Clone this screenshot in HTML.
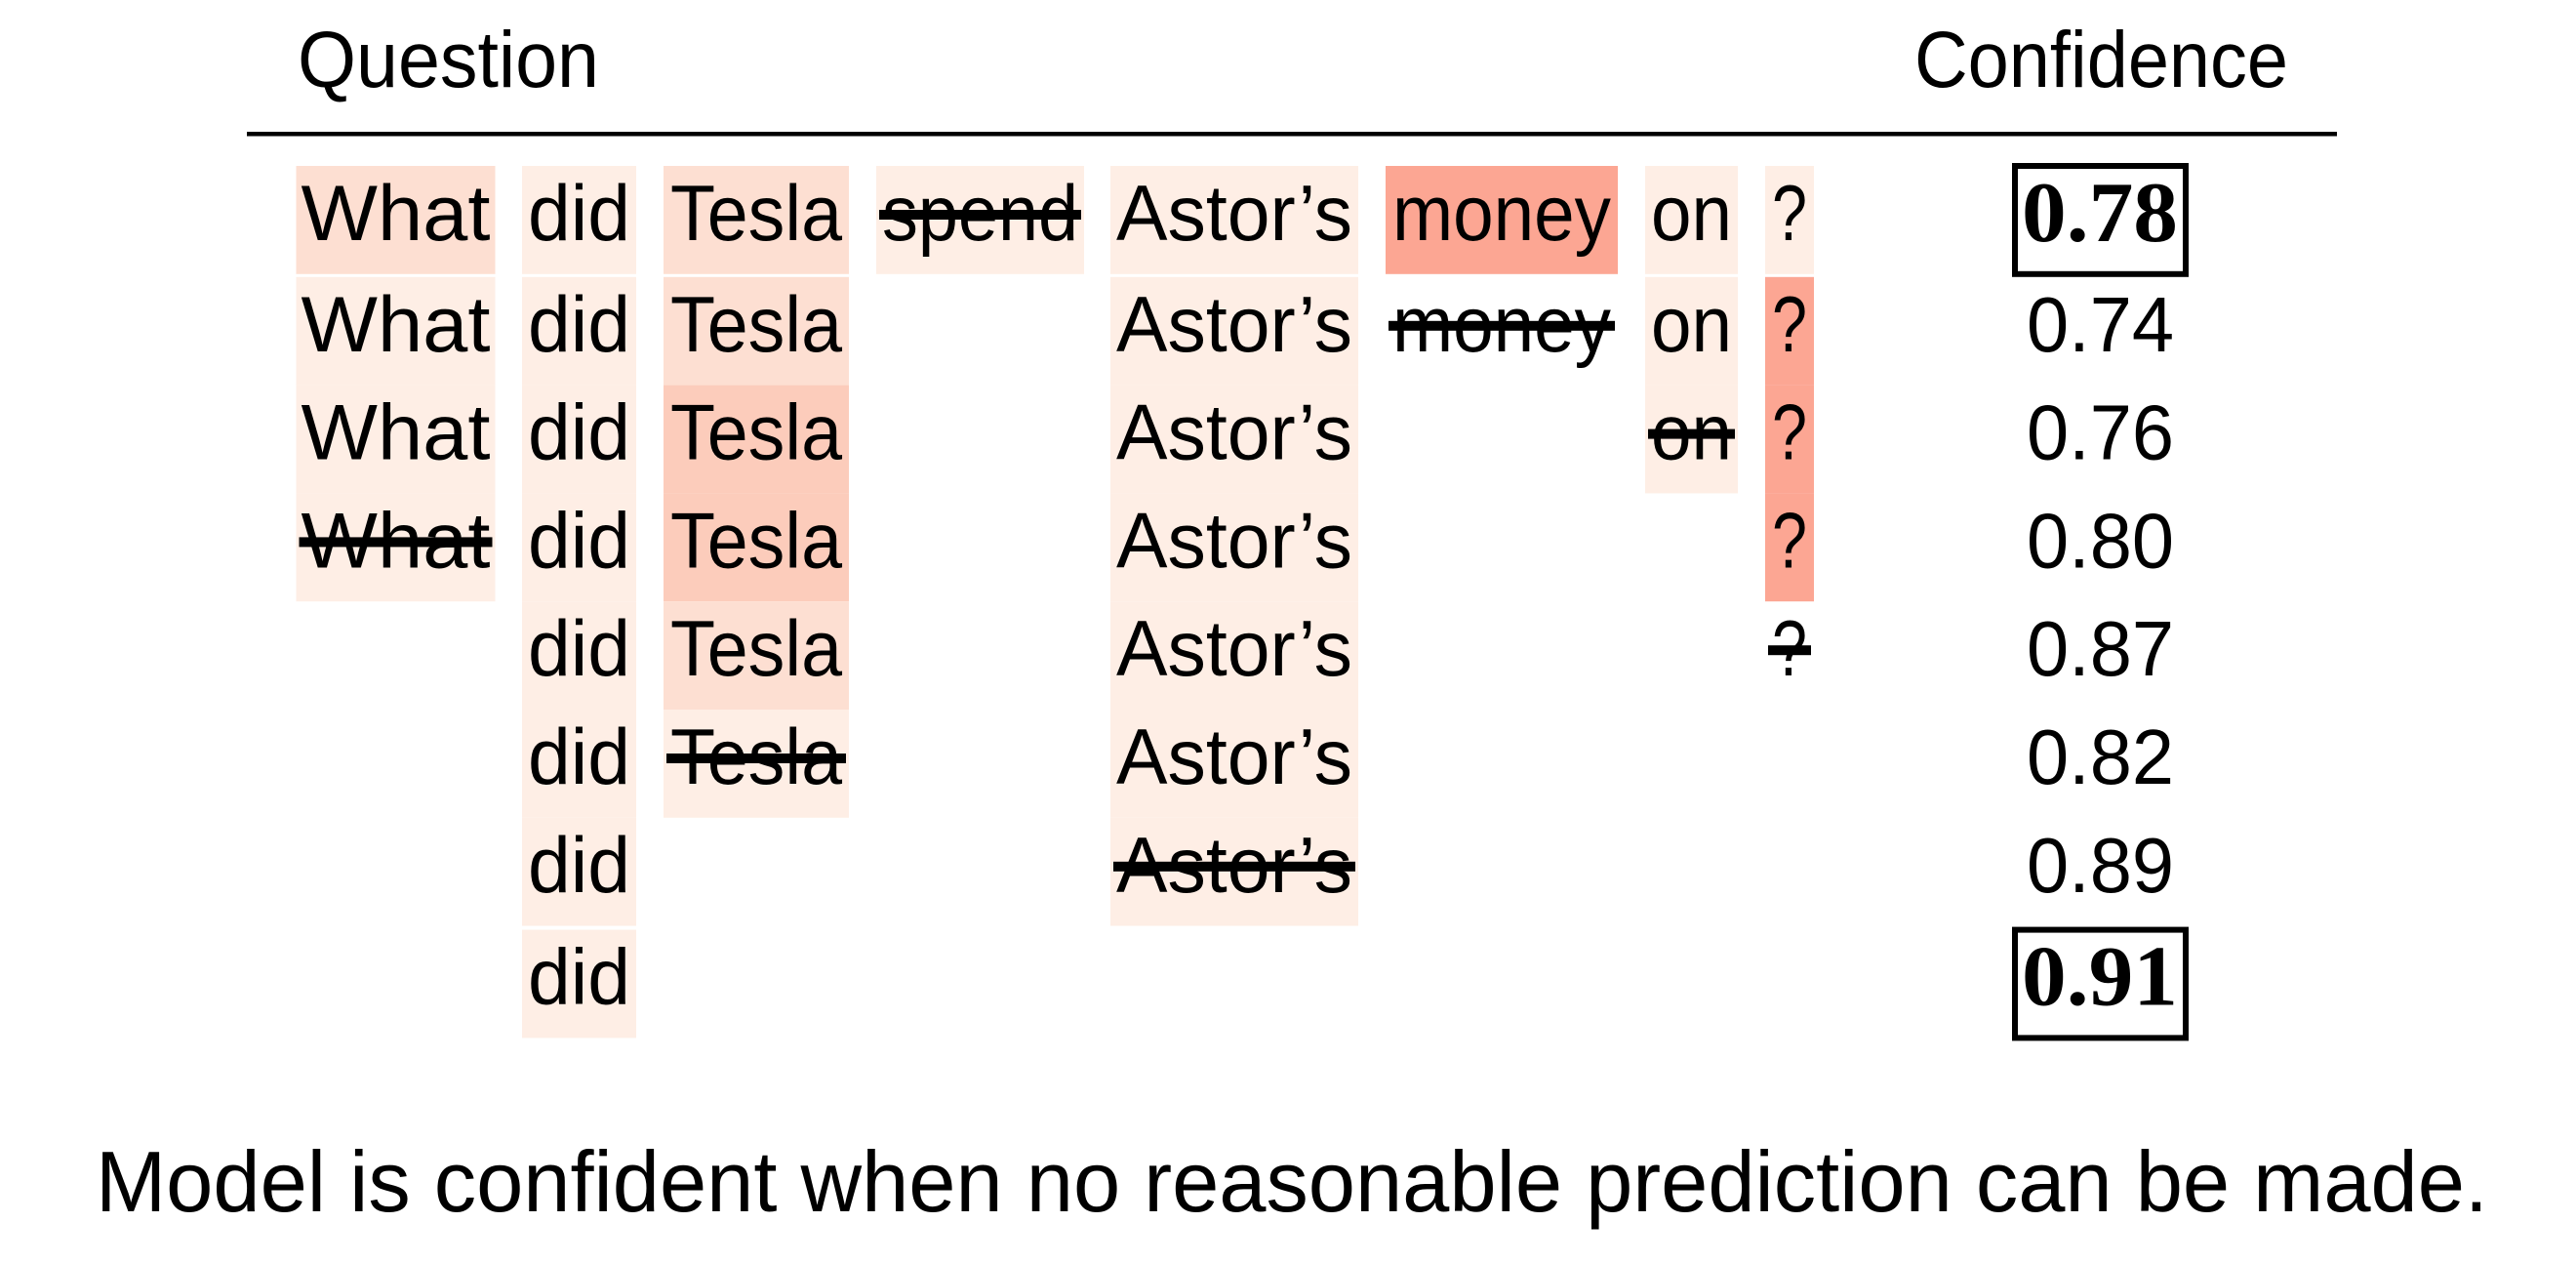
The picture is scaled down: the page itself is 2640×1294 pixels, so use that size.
<!DOCTYPE html>
<html lang="en">
<head>
<meta charset="utf-8">
<title>Input reduction confidence table</title>
<style>
html,body{margin:0;padding:0;background:#fff;width:2640px;height:1294px;overflow:hidden}
svg{display:block}
text{font-family:"Liberation Sans",sans-serif;fill:#000}
</style>
</head>
<body>
<svg id="chart" xmlns="http://www.w3.org/2000/svg" width="2640" height="1294" viewBox="0 0 2640 1294">
  <rect x="0" y="0" width="2640" height="1294" fill="#ffffff"/>
  <text x="305" y="89" font-size="82" textLength="309" lengthAdjust="spacingAndGlyphs">Question</text>
  <text x="1962" y="89" font-size="82" textLength="383" lengthAdjust="spacingAndGlyphs">Confidence</text>
  <rect x="253" y="135" width="2142" height="4.5" fill="#000000"/>
  <g id="cells"></g>
  <g id="words"></g>
  <g id="strikes"></g>
  <g id="scores"></g>
  <text x="98" y="1241" font-size="88" textLength="2452" lengthAdjust="spacingAndGlyphs">Model is confident when no reasonable prediction can be made.</text>
</svg>
<script>
// Data
var tokens = ["What", "did", "Tesla", "spend", "Astor\u2019s", "money", "on", "?"];
var removedTokenByStep = [3, 5, 6, 0, 7, 2, 4, null];
var confidences = ["0.78", "0.74", "0.76", "0.80", "0.87", "0.82", "0.89", "0.91"];
var boxedSteps = [0, 7];
var salienceStep0 = [0.13, 0.04, 0.13, 0.04, 0.04, 0.32, 0.04, 0.04];
var salienceStep1 = [0.04, 0.04, 0.13, null, 0.04, null, 0.04, 0.32];
var salienceStep2 = [0.04, 0.04, 0.20, null, 0.04, null, 0.04, 0.32];
var salienceStep3 = [0.04, 0.04, 0.20, null, 0.04, null, null, 0.32];
var salienceStep4 = [null, 0.04, 0.13, null, 0.04, null, null, null];
var salienceStep5 = [null, 0.04, 0.04, null, 0.04, null, null, null];
var salienceStep6 = [null, 0.04, null, null, 0.04, null, null, null];
var salienceStep7 = [null, 0.04, null, null, null, null, null, null];
var salience = [salienceStep0, salienceStep1, salienceStep2, salienceStep3, salienceStep4, salienceStep5, salienceStep6, salienceStep7];

// Layout of the categorical token axis (not data)
function bandLeft(i) {
  switch (i) {
    case 0: return 303.5;
    case 1: return 535;
    case 2: return 680;
    case 3: return 898;
    case 4: return 1138;
    case 5: return 1420;
    case 6: return 1686;
    default: return 1809;
  }
}
function bandRight(i) {
  switch (i) {
    case 0: return 507.5;
    case 1: return 652;
    case 2: return 870;
    case 3: return 1111;
    case 4: return 1392;
    case 5: return 1658;
    case 6: return 1781;
    default: return 1859;
  }
}
function wordInset(i) {
  switch (i) {
    case 0: return 5;
    case 1: return 6;
    case 2: return 7;
    case 3: return 6;
    case 4: return 6;
    case 5: return 7;
    case 6: return 6;
    default: return 7;
  }
}

// Axis functions
var ROW_PITCH = 110.8;
function rowTop(r) {
  return 170 + ROW_PITCH * r + (r >= 1 ? 3 : 0) + (r >= 7 ? 4 : 0);
}
function rowBottom(r) { return rowTop(r) + ROW_PITCH; }
function baseline(r) { return rowTop(r) + 76; }

function hex(c) { return parseInt(c, 16); }
function mix(a, b, t) {
  var out = "#";
  for (var k = 1; k < 7; k += 2) {
    var v = Math.round(hex(a.substr(k, 2)) + (hex(b.substr(k, 2)) - hex(a.substr(k, 2))) * t);
    out += (v < 16 ? "0" : "") + v.toString(16);
  }
  return out;
}
// Reds-like colour ramp
function colorFor(v) {
  if (v <= 0.125) return mix("#fff4ed", "#fde0d4", v / 0.125);
  if (v <= 0.25) return mix("#fde0d4", "#fcbfab", (v - 0.125) / 0.125);
  return mix("#fcbfab", "#fc9280", (v - 0.25) / 0.125);
}

var NS = "http://www.w3.org/2000/svg";
var cellsG = document.getElementById("cells");
var wordsG = document.getElementById("words");
var strikesG = document.getElementById("strikes");
var scoresG = document.getElementById("scores");

function make(tag, attrs, parent) {
  var el = document.createElementNS(NS, tag);
  for (var k in attrs) el.setAttribute(k, attrs[k]);
  parent.appendChild(el);
  return el;
}

var gone = {};
for (var r = 0; r < salience.length; r++) {
  for (var i = 0; i < tokens.length; i++) {
    var v = salience[r][i];
    if (v !== null) {
      var cell = make("rect", {
        x: bandLeft(i), y: rowTop(r),
        width: bandRight(i) - bandLeft(i), height: ROW_PITCH,
        fill: colorFor(v)
      }, cellsG);
      
      
    }
    if (!gone[i]) {
      var inset = wordInset(i);
      var word = make("text", {
        x: bandLeft(i) + inset, y: baseline(r), "font-size": 81,
        textLength: bandRight(i) - bandLeft(i) - 2 * inset,
        lengthAdjust: "spacingAndGlyphs"
      }, wordsG);
      word.textContent = tokens[i];
      
      
    }
  }
  var rem = removedTokenByStep[r];
  if (rem !== null) {
    var strike = make("rect", {
      x: bandLeft(rem) + 3, y: baseline(r) - 31,
      width: bandRight(rem) - bandLeft(rem) - 6, height: 10,
      fill: "#000000"
    }, strikesG);
    
    
    gone[rem] = true;
  }
  var boxed = boxedSteps.indexOf(r) >= 0;
  var score = make("text", boxed ? {
    x: 2072, y: baseline(r) + 1, "font-size": 88, "font-weight": "bold",
    style: 'font-family:"Liberation Serif",serif',
    textLength: 160, lengthAdjust: "spacingAndGlyphs"
  } : {
    x: 2077, y: baseline(r), "font-size": 80,
    textLength: 151, lengthAdjust: "spacingAndGlyphs"
  }, scoresG);
  score.textContent = confidences[r];
  
  
  if (boxed) {
    var box = make("rect", {
      x: 2065, y: rowTop(r), width: 175, height: ROW_PITCH,
      fill: "none", stroke: "#000000", "stroke-width": 6
    }, scoresG);
    
    
  }
}
</script>
</body>
</html>
